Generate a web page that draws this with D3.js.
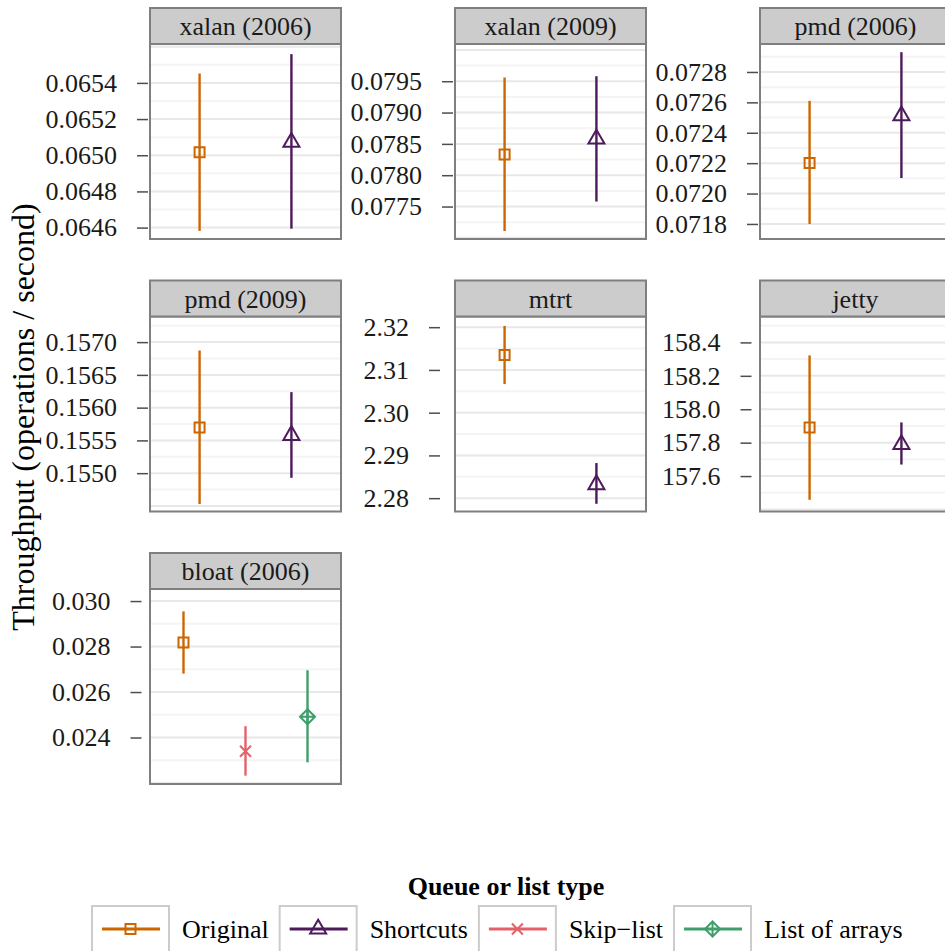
<!DOCTYPE html>
<html>
<head>
<meta charset="utf-8">
<script src="https://cdn.jsdelivr.net/npm/d3@7"></script>
<style>
  body { margin: 0; background: #fff; }
  text { font-family: "Liberation Serif", "Times New Roman", serif; }
</style>
</head>
<body>
<div id="plot"></div>
<script>
// panels (facets) and queue types
const panels = ["xalan (2006)", "xalan (2009)", "pmd (2006)", "pmd (2009)", "mtrt", "jetty", "bloat (2006)"];
const types = ["Original", "Shortcuts", "Skip\u2212list", "List of arrays"];
const colors = ["#cc6600", "#4d1a5c", "#e2626a", "#3f9e6b"];

// mean, lower and upper of each type, per panel (null = not measured)
const originalMean = [0.065017, 0.078329, 0.072201, 0.155698, 2.3135, 157.891, 0.028178];
const originalLow  = [0.064582, 0.077110, 0.071800, 0.154529, 2.30669, 157.458, 0.026810];
const originalHigh = [0.065452, 0.079559, 0.072610, 0.156872, 2.3203, 158.322, 0.029546];

const shortcutsMean = [0.065072, 0.078578, 0.072512, 0.155578, 2.28319, 157.790, null];
const shortcutsLow  = [0.064594, 0.077580, 0.072102, 0.154929, 2.27869, 157.669, null];
const shortcutsHigh = [0.065559, 0.079580, 0.072930, 0.156237, 2.28822, 157.921, null];

const skipMean = [null, null, null, null, null, null, 0.023396];
const skipLow  = [null, null, null, null, null, null, 0.022324];
const skipHigh = [null, null, null, null, null, null, 0.024499];

const arraysMean = [null, null, null, null, null, null, 0.024913];
const arraysLow  = [null, null, null, null, null, null, 0.022910];
const arraysHigh = [null, null, null, null, null, null, 0.026956];

// y limits and labelled ticks of each panel
const yLimits = [
  [0.064537, 0.065615], [0.076982, 0.080094], [0.071701, 0.072984],
  [0.154415, 0.157391], [2.27688, 2.3225], [157.388, 158.555], [0.021957, 0.03053]
];
const yTicks = [
  [0.0646, 0.0648, 0.0650, 0.0652, 0.0654],
  [0.0775, 0.0780, 0.0785, 0.0790, 0.0795],
  [0.0718, 0.0720, 0.0722, 0.0724, 0.0726, 0.0728],
  [0.1550, 0.1555, 0.1560, 0.1565, 0.1570],
  [2.28, 2.29, 2.30, 2.31, 2.32],
  [157.6, 157.8, 158.0, 158.2, 158.4],
  [0.024, 0.026, 0.028, 0.030]
];
const yFormats = [".4f", ".4f", ".4f", ".4f", ".2f", ".1f", ".3f"];

const means = [originalMean, shortcutsMean, skipMean, arraysMean];
const lows = [originalLow, shortcutsLow, skipLow, arraysLow];
const highs = [originalHigh, shortcutsHigh, skipHigh, arraysHigh];

// layout
const width = 945, height = 951;
const colX = [150, 455, 760];
const panelW = 191, stripH = 36, panelH = 195, rowPitch = 272.5, topY = 8;

const svg = d3.select("#plot").append("svg")
  .attr("width", width).attr("height", height);

function shapePath(i) {
  const p = d3.path();
  if (i === 0) { p.rect(-5, -5, 10, 10); }
  else if (i === 1) { p.moveTo(0, -9.2); p.lineTo(8, 4.6); p.lineTo(-8, 4.6); p.closePath(); }
  else if (i === 2) { p.moveTo(-5.5, -5.5); p.lineTo(5.5, 5.5); p.moveTo(5.5, -5.5); p.lineTo(-5.5, 5.5); }
  else { p.moveTo(0, -7.5); p.lineTo(7.5, 0); p.lineTo(0, 7.5); p.lineTo(-7.5, 0); p.closePath();
         p.moveTo(0, -7.5); p.lineTo(0, 7.5); p.moveTo(-7.5, 0); p.lineTo(7.5, 0); }
  return p.toString();
}

panels.forEach((name, pi) => {
  const row = Math.floor(pi / 3), col = pi % 3;
  const x0 = colX[col], y0 = topY + row * rowPitch;
  const g = svg.append("g").attr("transform", `translate(${x0},${y0})`);

  // types present in this panel
  const present = types.map((t, ti) => ti).filter(ti => means[ti][pi] !== null);
  const x = d3.scalePoint().domain(present).range([0, panelW]).padding(0.54);
  const y = d3.scaleLinear().domain(yLimits[pi]).range([stripH + panelH, stripH]);

  const ticks = yTicks[pi];
  const step = ticks[1] - ticks[0];
  const [lo, hi] = yLimits[pi];
  const grid = [];
  for (let k = Math.ceil((lo - ticks[0]) / (step / 2) - 1e-6); ticks[0] + k * step / 2 <= hi; k++) {
    grid.push({v: ticks[0] + k * step / 2, major: k % 2 === 0});
  }

  g.append("rect").attr("x", 0).attr("y", stripH).attr("width", panelW).attr("height", panelH)
    .attr("fill", "#fff");
  g.selectAll("line.grid").data(grid).enter().append("line")
    .attr("x1", 0).attr("x2", panelW)
    .attr("y1", d => y(d.v)).attr("y2", d => y(d.v))
    .attr("stroke", d => d.major ? "#e8e8e8" : "#f4f4f4")
    .attr("stroke-width", 2);

  // error bars and points
  present.forEach(ti => {
    const cx = x(ti);
    g.append("line")
      .attr("x1", cx).attr("x2", cx)
      .attr("y1", y(lows[ti][pi])).attr("y2", y(highs[ti][pi]))
      .attr("stroke", colors[ti]).attr("stroke-width", 2.4);
    g.append("path")
      .attr("d", shapePath(ti))
      .attr("transform", `translate(${cx},${y(means[ti][pi])})`)
      .attr("fill", "none").attr("stroke", colors[ti]).attr("stroke-width", 2);
  });

  g.append("rect").attr("x", 0).attr("y", stripH).attr("width", panelW).attr("height", panelH)
    .attr("fill", "none").attr("stroke", "#7f7f7f").attr("stroke-width", 2);

  // strip
  g.append("rect").attr("x", 0).attr("y", 0).attr("width", panelW).attr("height", stripH)
    .attr("fill", "#cccccc").attr("stroke", "#7f7f7f").attr("stroke-width", 2);
  g.append("text").attr("x", panelW / 2).attr("y", stripH / 2).attr("dy", "0.35em")
    .attr("text-anchor", "middle").attr("font-size", 26).attr("fill", "#1a1a1a")
    .text(name);

  // y axis
  const fmt = d3.format(yFormats[pi]);
  const labelLen = fmt(ticks[0]).length;
  const gap = 2 + (6 - labelLen) * 6.5;
  const axis = d3.axisLeft(y).tickValues(ticks).tickFormat(fmt).tickSizeOuter(0)
    .tickSize(11).tickPadding(20);
  const ag = g.append("g").attr("transform", `translate(${-gap},0)`).call(axis);
  ag.select(".domain").remove();
  ag.selectAll(".tick line").attr("stroke", "#4d4d4d").attr("stroke-width", 1.5);
  ag.selectAll(".tick text").attr("font-size", 26).attr("fill", "#1a1a1a")
    .attr("font-family", "Liberation Serif, Times New Roman, serif");
});

// y axis title
svg.append("text")
  .attr("transform", "translate(34,417) rotate(-90)")
  .attr("text-anchor", "middle").attr("font-size", 32).attr("fill", "#000")
  .text("Throughput (operations / second)");

// legend
svg.append("text").attr("x", 506).attr("y", 895)
  .attr("text-anchor", "middle").attr("font-size", 26).attr("font-weight", "bold")
  .text("Queue or list type");

let lx = 92;
types.forEach((t, ti) => {
  const lg = svg.append("g").attr("transform", `translate(${lx},906)`);
  lg.append("rect").attr("x", 0).attr("y", 0).attr("width", 77).attr("height", 60)
    .attr("fill", "#fff").attr("stroke", "#cccccc").attr("stroke-width", 2);
  lg.append("line").attr("x1", 10).attr("x2", 68).attr("y1", 23).attr("y2", 23)
    .attr("stroke", colors[ti]).attr("stroke-width", 3);
  lg.append("path").attr("d", shapePath(ti)).attr("transform", "translate(38.5,23)")
    .attr("fill", "none").attr("stroke", colors[ti]).attr("stroke-width", 2);
  const txt = lg.append("text").attr("x", 90).attr("y", 23).attr("dy", "0.35em")
    .attr("font-size", 26).attr("fill", "#000").text(t);
  lx += 90 + txt.node().getComputedTextLength() + 11;
});
</script>
</body>
</html>
